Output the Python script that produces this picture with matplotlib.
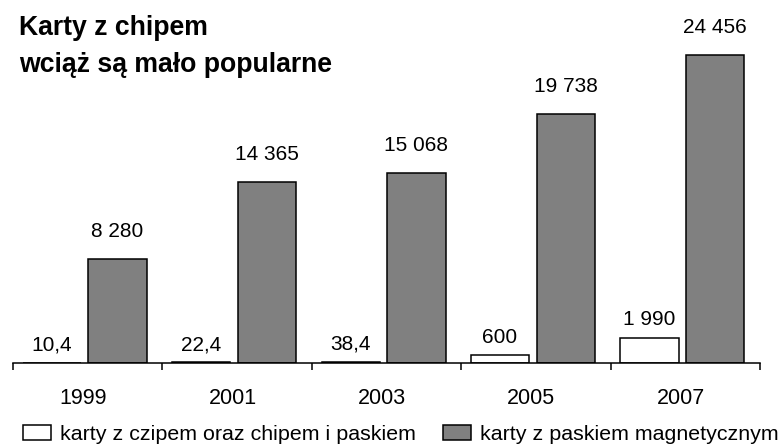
import numpy as np
import matplotlib
matplotlib.use("Agg")
import matplotlib.pyplot as plt
from matplotlib.patches import Patch

plt.rcParams["font.family"] = ["Liberation Sans", "DejaVu Sans"]

years = ["1999", "2001", "2003", "2005", "2007"]
chip = [10.4, 22.4, 38.4, 600, 1990]
magnetic = [8280, 14365, 15068, 19738, 24456]
legend_labels = ["karty z czipem oraz chipem i paskiem", "karty z paskiem magnetycznym"]


def fmt(v):
    # Polish style: space as thousands separator, comma as decimal
    if v == int(v):
        return f"{int(v):,}".replace(",", " ")
    return f"{v:.1f}".replace(".", ",")


fig = plt.figure(figsize=(7.81, 4.45), dpi=100)
ax = fig.add_axes([13 / 781, 0.185, (760 - 13) / 781, 0.955 - 0.185])

x = np.arange(len(years))
w = 0.39
b1 = ax.bar(x - 0.24, chip, w, color="white", edgecolor="black", linewidth=1.1)
b2 = ax.bar(x + 0.20, magnetic, w, color="#808080", edgecolor="black", linewidth=1.1)

for rect, v in zip(b1, chip):
    ax.annotate(fmt(v), (rect.get_x() + rect.get_width() / 2, rect.get_height()),
                xytext=(0, 6), textcoords="offset points",
                ha="center", va="bottom", fontsize=15)
for rect, v in zip(b2, magnetic):
    ax.annotate(fmt(v), (rect.get_x() + rect.get_width() / 2, rect.get_height()),
                xytext=(0, 13), textcoords="offset points",
                ha="center", va="bottom", fontsize=15)

ax.set_xlim(-0.5, len(years) - 0.5)
ax.set_ylim(0, 27250)

# ticks at category boundaries, labels at centers
ax.set_xticks(np.arange(len(years) + 1) - 0.5)
ax.set_xticklabels([])
ax.set_xticks(x - 0.03, minor=True)
ax.set_xticklabels(years, minor=True, fontsize=15.5)
ax.tick_params(axis="x", which="major", length=5, width=1.1, direction="out")
ax.tick_params(axis="x", which="minor", length=0, pad=18)
ax.set_yticks([])
for s in ["left", "right", "top"]:
    ax.spines[s].set_visible(False)
ax.spines["bottom"].set_linewidth(1.1)

fig.text(19 / 781, 1 - 35 / 445, "Karty z chipem", fontsize=19.2, fontweight="bold",
         ha="left", va="baseline")
fig.text(19 / 781, 1 - 72 / 445, "wciąż są mało popularne", fontsize=19.2, fontweight="bold",
         ha="left", va="baseline")

handles = [Patch(facecolor="white", edgecolor="black", linewidth=1.1),
           Patch(facecolor="#808080", edgecolor="black", linewidth=1.1)]
fig.legend(handles, legend_labels, loc="lower left", bbox_to_anchor=(23 / 781, 1 / 445),
           ncol=2, frameon=False, fontsize=15.4, borderpad=0, borderaxespad=0,
           handlelength=1.31, handleheight=0.75, handletextpad=0.42, columnspacing=1.26)

fig.savefig("out.png", dpi=100)
